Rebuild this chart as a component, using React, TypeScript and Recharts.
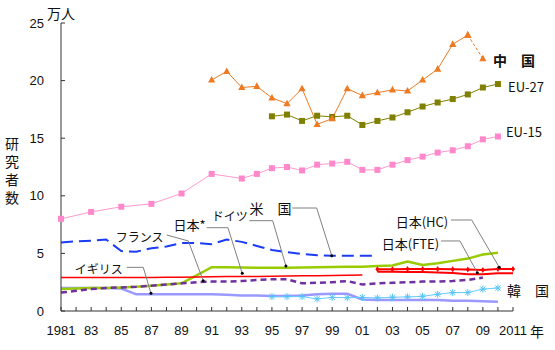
import { LineChart, Line, XAxis, YAxis, ReferenceLine, ReferenceDot } from "recharts";

const N = null;

const years = [
  1981, 1982, 1983, 1984, 1985, 1986, 1987, 1988, 1989, 1990, 1991, 1992, 1993, 1994, 1995, 1996,
  1997, 1998, 1999, 2000, 2001, 2002, 2003, 2004, 2005, 2006, 2007, 2008, 2009, 2010, 2011,
];
const yTicks = [0, 5, 10, 15, 20, 25];

// 単位: 万人
const china = [N, N, N, N, N, N, N, N, N, N, 20.05, 20.8, 19.4, 19.5, 18.5, 18.0, 19.3, 16.2, 16.7, 19.3, 18.7, 18.95, 19.2, 19.1, 20.05, 21.0, 23.15, 23.95, N, N, N];
const chinaLatest = [N, N, N, N, N, N, N, N, N, N, N, N, N, N, N, N, N, N, N, N, N, N, N, N, N, N, N, 23.95, 21.9, N, N];
const eu27 = [N, N, N, N, N, N, N, N, N, N, N, N, N, N, 16.9, 17.05, 16.5, 16.95, 16.85, 16.95, 16.15, 16.5, 16.8, 17.25, 17.75, 18.1, 18.4, 18.8, 19.4, 19.7, N];
const eu15 = [8.0, N, 8.6, N, 9.05, N, 9.3, N, 10.2, N, 11.9, N, 11.5, 11.9, 12.4, 12.5, 12.2, 12.7, 12.8, 12.95, 12.25, 12.25, 12.7, 13.1, 13.4, 13.75, 13.95, 14.3, 14.9, 15.15, N];
const usa = [5.95, 6.05, 6.1, 6.2, 5.2, 5.15, 5.45, 5.6, 5.9, 5.9, 5.8, 6.2, 6.0, 5.65, 5.3, 5.1, 4.95, 4.85, 4.8, 4.8, 4.8, 4.8, N, N, N, N, N, N, N, N, N];
const germany = [1.9, 1.95, 2.0, 2.0, 2.05, 2.1, 2.2, 2.3, 2.4, 3.1, 3.8, 3.8, 3.78, 3.75, 3.75, 3.75, 3.78, 3.8, 3.82, 3.85, 3.85, 3.9, 3.95, 4.3, 4.0, 4.15, 4.35, 4.55, 4.9, 5.05, N];
const japanOld = [2.9, 2.9, 2.9, 2.9, 2.9, 2.9, 2.9, 2.92, 2.94, 2.96, 2.98, 3.0, 3.0, 3.0, 3.02, 3.03, 3.05, 3.06, 3.08, 3.1, 3.12, N, N, N, N, N, N, N, N, N, N];
const japanHC = [N, N, N, N, N, N, N, N, N, N, N, N, N, N, N, N, N, N, N, N, N, 3.62, 3.62, 3.65, 3.65, 3.65, 3.62, 3.6, 3.55, 3.65, 3.65];
const japanFTE = [N, N, N, N, N, N, N, N, N, N, N, N, N, N, N, N, N, N, N, N, N, 3.4, 3.4, 3.38, 3.38, 3.35, 3.3, 3.2, 3.2, 3.28, 3.28];
const france = [1.6, 1.75, 1.9, 2.0, 2.05, 2.1, 2.2, 2.3, 2.4, 2.5, 2.55, 2.55, 2.6, 2.7, 2.75, 2.75, 2.4, 2.45, 2.5, 2.6, 2.3, 2.4, 2.45, 2.5, 2.55, 2.55, 2.6, 2.7, 2.9, N, N];
const uk = [2.0, 2.0, 2.0, 2.0, 1.95, 1.45, 1.45, 1.45, 1.45, 1.45, 1.45, 1.4, 1.35, 1.35, 1.3, 1.3, 1.35, 1.45, 1.5, 1.5, 1.0, 0.95, 0.95, 0.95, 0.95, 0.95, 0.9, 0.9, 0.85, 0.8, N];
const korea = [N, N, N, N, N, N, N, N, N, N, N, N, N, N, 1.25, 1.25, 1.25, 1.05, 1.18, 1.15, 1.18, 1.13, 1.2, 1.22, 1.28, 1.45, 1.6, 1.6, 1.9, 2.0, N];

const data = years.map((year, i) => ({
  year,
  china: china[i],
  chinaLatest: chinaLatest[i],
  eu27: eu27[i],
  eu15: eu15[i],
  usa: usa[i],
  germany: germany[i],
  japanOld: japanOld[i],
  japanHC: japanHC[i],
  japanFTE: japanFTE[i],
  france: france[i],
  uk: uk[i],
  korea: korea[i],
}));

// 注記（データ座標）
const labels = [
  { text: "中　国", x: 2009.67, y: 21.8, anchor: "start", size: 14, bold: true },
  { text: "EU-27", x: 2010.67, y: 19.5, anchor: "start", size: 13 },
  { text: "EU-15", x: 2010.53, y: 15.55, anchor: "start", size: 13 },
  { text: "米　国", x: 1996.3, y: 8.94, anchor: "end", size: 14 },
  { text: "ドイツ", x: 1993.4, y: 8.33, anchor: "end", size: 12 },
  { text: "日本*", x: 1990.6, y: 7.55, anchor: "end", size: 13 },
  { text: "フランス", x: 1987.8, y: 6.5, anchor: "end", size: 12 },
  { text: "イギリス", x: 1985.1, y: 3.7, anchor: "end", size: 12 },
  { text: "日本(HC)", x: 2006.7, y: 7.75, anchor: "end", size: 13 },
  { text: "日本(FTE)", x: 2006.1, y: 5.88, anchor: "end", size: 13 },
  { text: "韓　国", x: 2010.6, y: 1.82, anchor: "start", size: 14 },
];

const leaders = [
  [[1996.35, 8.94], [1997.97, 8.94], [1998.97, 4.8]],
  [[1993.5, 7.84], [1995.05, 7.84], [1995.93, 3.91]],
  [[1990.67, 7.23], [1992.08, 7.23], [1993.03, 3.27]],
  [[1988.02, 6.6], [1989.45, 6.08], [1990.44, 2.63]],
  [[1985.36, 3.79], [1986.46, 3.79], [1986.97, 1.54]],
  [[2006.88, 7.9], [2008.26, 7.9], [2010.09, 3.79]],
  [[2006.22, 6.08], [2007.48, 6.08], [2008.63, 3.32]],
];

const JP = '"Noto Sans CJK JP", "Noto Sans", sans-serif';
const NUM = '"Liberation Sans", Arial, sans-serif';
const AXIS = "#333";

function XTick(props: any) {
  const { x, y, payload } = props;
  const v = payload.value as number;
  let label = "";
  if (v === 1981 || v === 2011) label = String(v);
  else if (v % 2 === 1) label = String(v).slice(2);
  return (
    <g>
      <line x1={x} y1={y} x2={x} y2={y - 4} stroke={AXIS} />
      <text x={x} y={y + 19} textAnchor="middle" dominantBaseline="central" fontFamily={NUM} fontSize={13} fill="#111">
        {label}
      </text>
    </g>
  );
}

function YTick(props: any) {
  const { x, y, payload } = props;
  return (
    <g>
      <line x1={x} y1={y} x2={x + 4} y2={y} stroke={AXIS} />
      <text x={x - 17} y={y} textAnchor="end" dominantBaseline="central" fontFamily={NUM} fontSize={13} fill="#111">
        {payload.value}
      </text>
    </g>
  );
}

const hidden = (p: any) => p.value == null || p.cy == null || isNaN(p.cy);

function Triangle(p: any) {
  if (hidden(p)) return <g key={p.index} />;
  const { cx, cy } = p;
  return <path key={p.index} d={`M${cx},${cy - 4}L${cx - 3.6},${cy + 2.6}L${cx + 3.6},${cy + 2.6}Z`} fill="#ee7a22" />;
}

function Square(color: string) {
  return (p: any) => {
    if (hidden(p)) return <g key={p.index} />;
    return <rect key={p.index} x={p.cx - 3} y={p.cy - 3} width={6} height={6} fill={color} />;
  };
}

function Asterisk(p: any) {
  if (hidden(p)) return <g key={p.index} />;
  const { cx, cy } = p;
  const r = 3.5;
  return (
    <g key={p.index} stroke="#55c4f5" strokeWidth={1}>
      <line x1={cx - r} y1={cy} x2={cx + r} y2={cy} />
      <line x1={cx} y1={cy - r} x2={cx} y2={cy + r} />
      <line x1={cx - 2.6} y1={cy - 2.6} x2={cx + 2.6} y2={cy + 2.6} />
      <line x1={cx - 2.6} y1={cy + 2.6} x2={cx + 2.6} y2={cy - 2.6} />
    </g>
  );
}

function Plus(p: any) {
  if (hidden(p)) return <g key={p.index} />;
  const { cx, cy } = p;
  return <path key={p.index} d={`M${cx},${cy - 3}L${cx + 2},${cy}L${cx},${cy + 3}L${cx - 2},${cy}Z`} fill="#ff0000" />;
}

function labelShape(l: any) {
  return (p: any) => (
    <text
      x={p.cx}
      y={p.cy}
      textAnchor={l.anchor}
      dominantBaseline="central"
      fontFamily={JP}
      fontSize={l.size}
      fontWeight={l.bold ? 700 : 400}
      fill="#111"
    >
      {l.text}
    </text>
  );
}

export default function App() {
  return (
    <div style={{ position: "absolute", left: 0, top: 0, width: 555, height: 350, background: "#fff" }}>
      <LineChart width={555} height={350} data={data} margin={{ top: 23, right: 42, left: 0, bottom: 0 }}>
        <XAxis
          type="number"
          dataKey="year"
          domain={[1981, 2011]}
          ticks={years}
          interval={0}
          height={39}
          stroke={AXIS}
          tickLine={false}
          tickSize={0}
          tickMargin={0}
          tick={<XTick />}
        />
        <YAxis
          type="number"
          domain={[0, 25]}
          ticks={yTicks}
          width={61}
          stroke={AXIS}
          tickLine={false}
          tickSize={0}
          tickMargin={0}
          tick={<YTick />}
        />
        <Line dataKey="eu15" stroke="#ff99cc" strokeWidth={1} dot={Square("#ff88cc")} connectNulls isAnimationActive={false} />
        <Line dataKey="eu27" stroke="#808000" strokeWidth={1} dot={Square("#7f7f00")} isAnimationActive={false} />
        <Line dataKey="china" stroke="#ee7a22" strokeWidth={1} dot={Triangle} isAnimationActive={false} />
        <Line dataKey="chinaLatest" stroke="#ee7a22" strokeWidth={1} strokeDasharray="3 2" dot={Triangle} isAnimationActive={false} />
        <Line dataKey="usa" stroke="#1a3cf5" strokeWidth={2} strokeDasharray="12 6" dot={false} isAnimationActive={false} />
        <Line dataKey="uk" stroke="#9999ff" strokeWidth={2.5} dot={false} isAnimationActive={false} />
        <Line dataKey="korea" stroke="#66ccff" strokeWidth={1} dot={Asterisk} isAnimationActive={false} />
        <Line dataKey="germany" stroke="#99cc00" strokeWidth={2.5} dot={false} isAnimationActive={false} />
        <Line dataKey="france" stroke="#7030a0" strokeWidth={2.5} strokeDasharray="6 4" dot={false} isAnimationActive={false} />
        <Line dataKey="japanOld" stroke="#ff0000" strokeWidth={1.5} dot={false} isAnimationActive={false} />
        <Line dataKey="japanFTE" stroke="#ff0000" strokeWidth={2} dot={false} isAnimationActive={false} />
        <Line dataKey="japanHC" stroke="#ff0000" strokeWidth={2} dot={Plus} isAnimationActive={false} />
        {leaders.flatMap((pts, i) =>
          pts.slice(1).map((pt, j) => (
            <ReferenceLine
              key={`l${i}-${j}`}
              segment={[
                { x: pts[j][0], y: pts[j][1] },
                { x: pt[0], y: pt[1] },
              ]}
              stroke="#808080"
              strokeWidth={1}
              ifOverflow="visible"
            />
          ))
        )}
        {leaders.map((pts, i) => (
          <ReferenceDot key={`d${i}`} x={pts[2][0]} y={pts[2][1]} r={1.5} fill="#000" stroke="none" ifOverflow="visible" />
        ))}
        {labels.map((l, i) => (
          <ReferenceDot key={`t${i}`} x={l.x} y={l.y} r={0} ifOverflow="visible" shape={labelShape(l)} />
        ))}
      </LineChart>
      <svg width={555} height={350} style={{ position: "absolute", left: 0, top: 0, pointerEvents: "none" }}>
        <text x={47} y={13} dominantBaseline="central" fontFamily={JP} fontSize={14} fill="#111">
          万人
        </text>
        <text x={537} y={331} textAnchor="middle" dominantBaseline="central" fontFamily={JP} fontSize={14} fill="#111">
          年
        </text>
        <text
          x={12}
          y={137}
          writingMode="vertical-rl"
          textAnchor="start"
          letterSpacing={4}
          fontFamily={JP}
          fontSize={14}
          fill="#111"
        >
          研究者数
        </text>
      </svg>
    </div>
  );
}
